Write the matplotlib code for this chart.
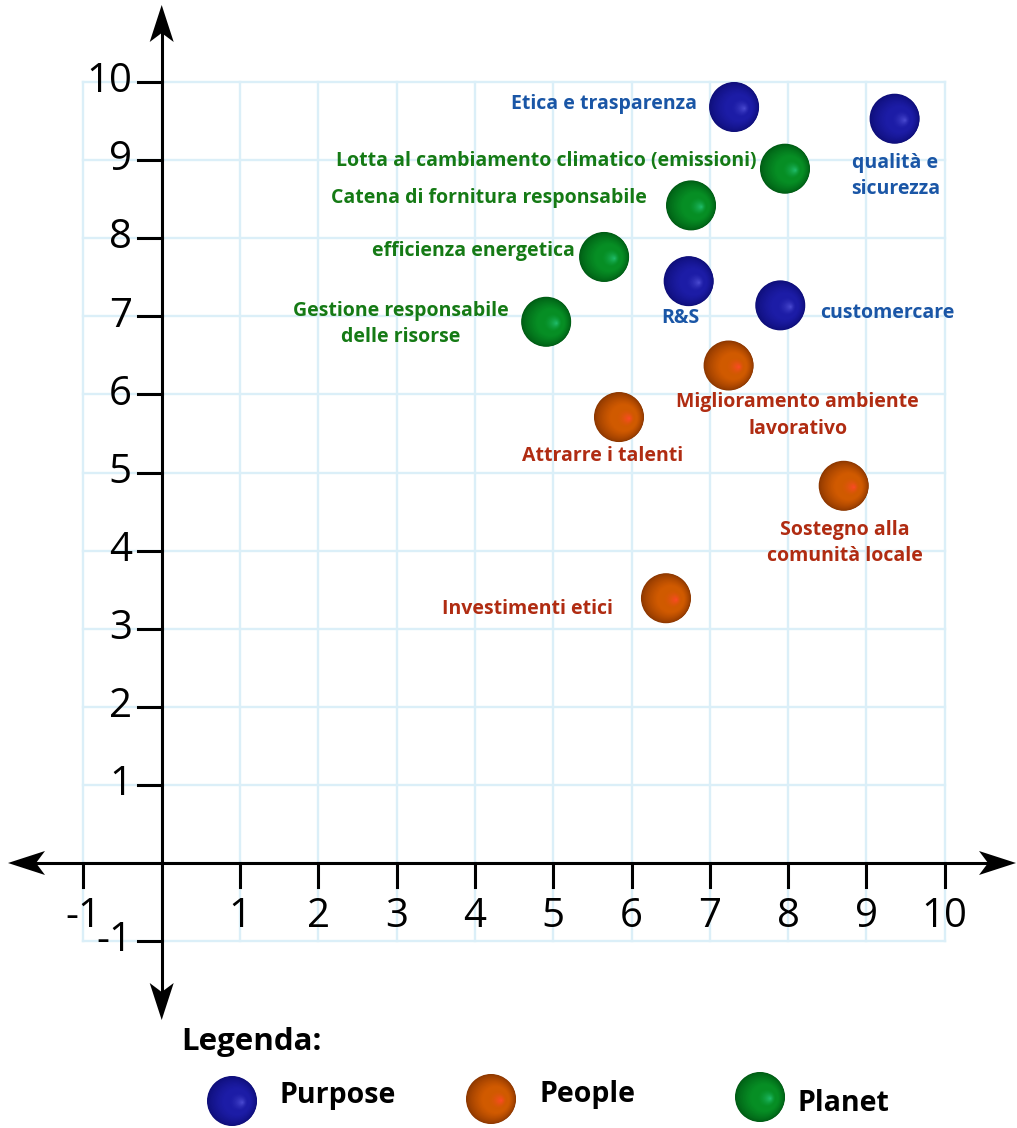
import numpy as np
import matplotlib.pyplot as plt
from matplotlib.patches import Ellipse, Polygon
from matplotlib.colors import to_rgb

# data
labels = ["Etica e trasparenza", "qualità e\nsicurezza",
          "Lotta al cambiamento climatico (emissioni)",
          "Catena di fornitura responsabile", "efficienza energetica",
          "R&S", "customercare", "Gestione responsabile\ndelle risorse",
          "Miglioramento ambiente\nlavorativo", "Attrarre i talenti",
          "Sostegno alla\ncomunità locale", "Investimenti etici"]
x_vals = [7.31, 9.36, 7.96, 6.76, 5.65, 6.73, 7.90, 4.91, 7.24, 5.84, 8.71, 6.44]
y_vals = [9.68, 9.53, 8.89, 8.42, 7.76, 7.45, 7.14, 6.93, 6.37, 5.71, 4.83, 3.39]
groups = ["Purpose", "Purpose", "Planet", "Planet", "Planet", "Purpose",
          "Purpose", "Planet", "People", "People", "People", "People"]

# label placement (offset in points from the ball, horizontal alignment)
offsets = [(-26.6, 2.2), (-31, -41), (-20.2, 5.8), (-31.7, 5), (-20.9, 4.3),
           (-5.8, -26.6), (28.8, -5.8), (-104.4, -1.4), (49.7, -36),
           (-11.5, -28.1), (0.7, -41), (-38.2, -7.9)]
aligns = ["right", "left", "right", "right", "right", "center", "left",
          "center", "center", "center", "center", "right"]

ticks = list(range(-1, 11))

legend_names = ["Purpose", "People", "Planet"]

# sphere colours: edge, body, highlight
sphere_cols = {
    "Purpose": ("#0e0e78", "#1c1ca6", "#4e4ed4"),
    "People": ("#8a3600", "#d05a00", "#ff4a2a"),
    "Planet": ("#005a14", "#068e24", "#22c070"),
}
text_cols = {"Purpose": "#1a56a6", "People": "#b02c12", "Planet": "#157a15"}

W, H = 1017, 1128
X0, Y0, UX, UY = 161.7, 863.0, 78.3, 78.1
xlim = (-X0 / UX, (W - X0) / UX)
ylim = (-(H - Y0) / UY, Y0 / UY)

plt.rcParams['font.family'] = ['Open Sans', 'DejaVu Sans']

fig = plt.figure(figsize=(W / 100, H / 100), dpi=100)
ax = fig.add_axes([0, 0, 1, 1])
ax.set_xlim(*xlim)
ax.set_ylim(*ylim)
ax.axis("off")


def px(xp, yp):
    # figure pixel (from top-left) -> data coordinates
    return (xlim[0] + xp / W * (xlim[1] - xlim[0]),
            ylim[1] - yp / H * (ylim[1] - ylim[0]))


def sphere(cx, cy, group, rpx=25, n=50):
    edge, body, hl = [np.array(to_rgb(c)) for c in sphere_cols[group]]
    rx, ry = rpx / UX, rpx / UY
    ox, oy = 0.42 * rx, -0.06 * ry
    for k in range(n):
        t = k / n
        c = edge + (body - edge) * min(t / 0.45, 1.0) ** 0.7
        c = c + (hl - body) * max((t - 0.6) / 0.4, 0) ** 1.8
        ax.add_patch(Ellipse((cx + ox * t, cy + oy * t), 2 * rx * (1 - t),
                             2 * ry * (1 - t), color=np.clip(c, 0, 1),
                             lw=0, zorder=5))


# grid
for v in ticks:
    ax.plot([v, v], [-1, 10], color="#dbeff8", lw=1.7, zorder=1)
    ax.plot([-1, 10], [v, v], color="#dbeff8", lw=1.7, zorder=1)

# axes with arrows
ax.plot([px(30, 0)[0], px(990, 0)[0]], [0, 0], color="black", lw=2.2, zorder=3)
ax.plot([0, 0], [px(0, 990)[1], px(0, 30)[1]], color="black", lw=2.2, zorder=3)


def arrow(tip, direction):
    tx, ty = tip
    dx, dy = direction
    nx, ny = -dy, dx
    L, hw, notch = 37, 12, 28
    pts = [(tx, ty), (tx - dx * L + nx * hw, ty - dy * L + ny * hw),
           (tx - dx * notch, ty - dy * notch),
           (tx - dx * L - nx * hw, ty - dy * L - ny * hw)]
    ax.add_patch(Polygon([px(a, b) for a, b in pts], closed=True,
                         color="black", lw=0, zorder=4))


arrow((1016, Y0), (1, 0))
arrow((8, Y0), (-1, 0))
arrow((X0, 5), (0, -1))
arrow((X0, 1020), (0, 1))

# ticks and labels
tl = 24 / UX
for v in ticks:
    if v == 0:
        continue
    ax.plot([-tl, 0], [v, v], color="black", lw=2.2, zorder=3)
    ax.plot([v, v], [0, -tl], color="black", lw=2.2, zorder=3)
    ax.text(-0.38, v, str(v), ha="right", va="center", fontsize=29, zorder=6)
    ax.text(v, -0.69, str(v), ha="center", va="center", fontsize=29, zorder=6)

# bubbles
for x, y, g, lab, off, al in zip(x_vals, y_vals, groups, labels, offsets, aligns):
    sphere(x, y, g)
    ax.annotate(lab, (x, y), xytext=off, textcoords="offset points",
                ha=al, va="center", multialignment=al if al != "right" else "center",
                fontsize=14, fontweight="bold", color=text_cols[g],
                linespacing=1.42, zorder=6)

# legend
ax.text(*px(181, 1042), "Legenda:", fontsize=22.5, fontweight="bold",
        ha="left", va="center", zorder=6)
leg_balls = [(232, 1101), (491, 1099), (760, 1097)]
leg_text = [(280, 1103), (540, 1102), (798, 1111)]
for name, (bx, by), (tx, ty) in zip(legend_names, leg_balls, leg_text):
    sphere(*px(bx, by), name)
    ax.text(*px(tx, ty), name, fontsize=20.5, fontweight="bold", ha="left",
            va="baseline", zorder=6)

fig.savefig("out.png", dpi=100)
